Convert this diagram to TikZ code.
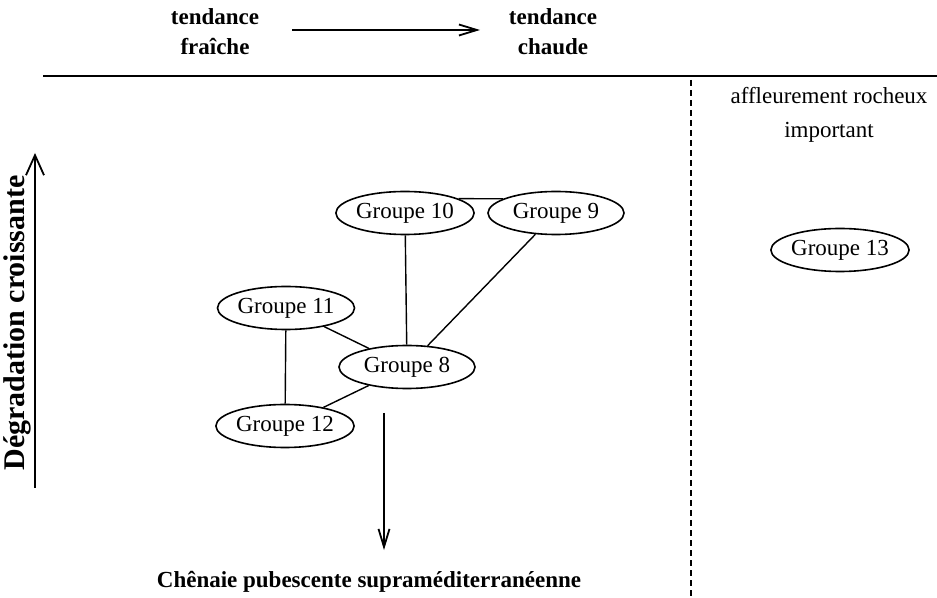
\documentclass[tikz,border=0pt]{standalone}
\usepackage{fontspec}
\setmainfont{Liberation Serif}
\usetikzlibrary{shapes.geometric,arrows.meta}

\begin{document}
\begin{tikzpicture}[x=0.5pt, y=-0.5pt, >={Straight Barb[length=9pt,width=5.5pt]},
  every node/.style={font=\fontsize{11.5}{14.5}\selectfont},
  groupe/.style={draw, ellipse, line width=0.8pt, inner sep=0pt, minimum width=68pt, minimum height=21.5pt},
  titre/.style={font=\fontsize{11.5}{15}\selectfont\bfseries, align=center}]
  \useasboundingbox (0,0) rectangle (937,598);

  % axe des tendances
  \node[titre] (fraiche) at (215,32) {tendance\\fraîche};
  \node[titre] (chaude) at (553,32) {tendance\\chaude};
  \coordinate (tf) at (292,30);
  \coordinate (tc) at (480,30);
  \draw[->, line width=0.9pt] (tf) -- (tc);
  \coordinate (sepg) at (43,76);
  \coordinate (sepd) at (937,76);
  \draw[line width=1.1pt] (sepg) -- (sepd);
  \coordinate (dh) at (691,80);
  \coordinate (db) at (691,598);
  \draw[line width=1.1pt, dash pattern=on 3pt off 2pt] (dh) -- (db);

  % degradation
  \coordinate (ab) at (35,488);
  \coordinate (ah) at (35,153);
  \draw[-{Straight Barb[length=10pt,width=9pt]}, line width=0.9pt] (ab) -- (ah);
  \node[font=\fontsize{15}{18}\selectfont\bfseries, rotate=90] (degr) at (17,323) {Dégradation croissante};

  % groupes
  \node[groupe] (g10) at (405,213) {Groupe 10};
  \node[groupe] (g9) at (556,213) {Groupe 9};
  \node[groupe] (g11) at (286,308) {Groupe 11};
  \node[groupe] (g8) at (407,367) {Groupe 8};
  \node[groupe] (g12) at (285,426) {Groupe 12};
  \node[font=\fontsize{11.5}{17}\selectfont, align=center] (roch) at (829,115) {affleurement rocheux\\important};
  \node[groupe] (g13) at (840,250) {Groupe 13};

  \draw[line width=0.7pt] (g10.15) -- (g9.165);
  \draw[line width=0.7pt] (g10) -- (g8);
  \draw[line width=0.7pt] (g9) -- (g8);
  \draw[line width=0.7pt] (g11) -- (g8);
  \draw[line width=0.7pt] (g11) -- (g12);
  \draw[line width=0.7pt] (g8) -- (g12);

  % chenaie
  \coordinate (ch) at (384,413);
  \coordinate (cb) at (384,550);
  \draw[->, line width=0.9pt] (ch) -- (cb);
  \node[titre] (chenaie) at (369,582) {Chênaie pubescente supraméditerranéenne};
\end{tikzpicture}
\end{document}
